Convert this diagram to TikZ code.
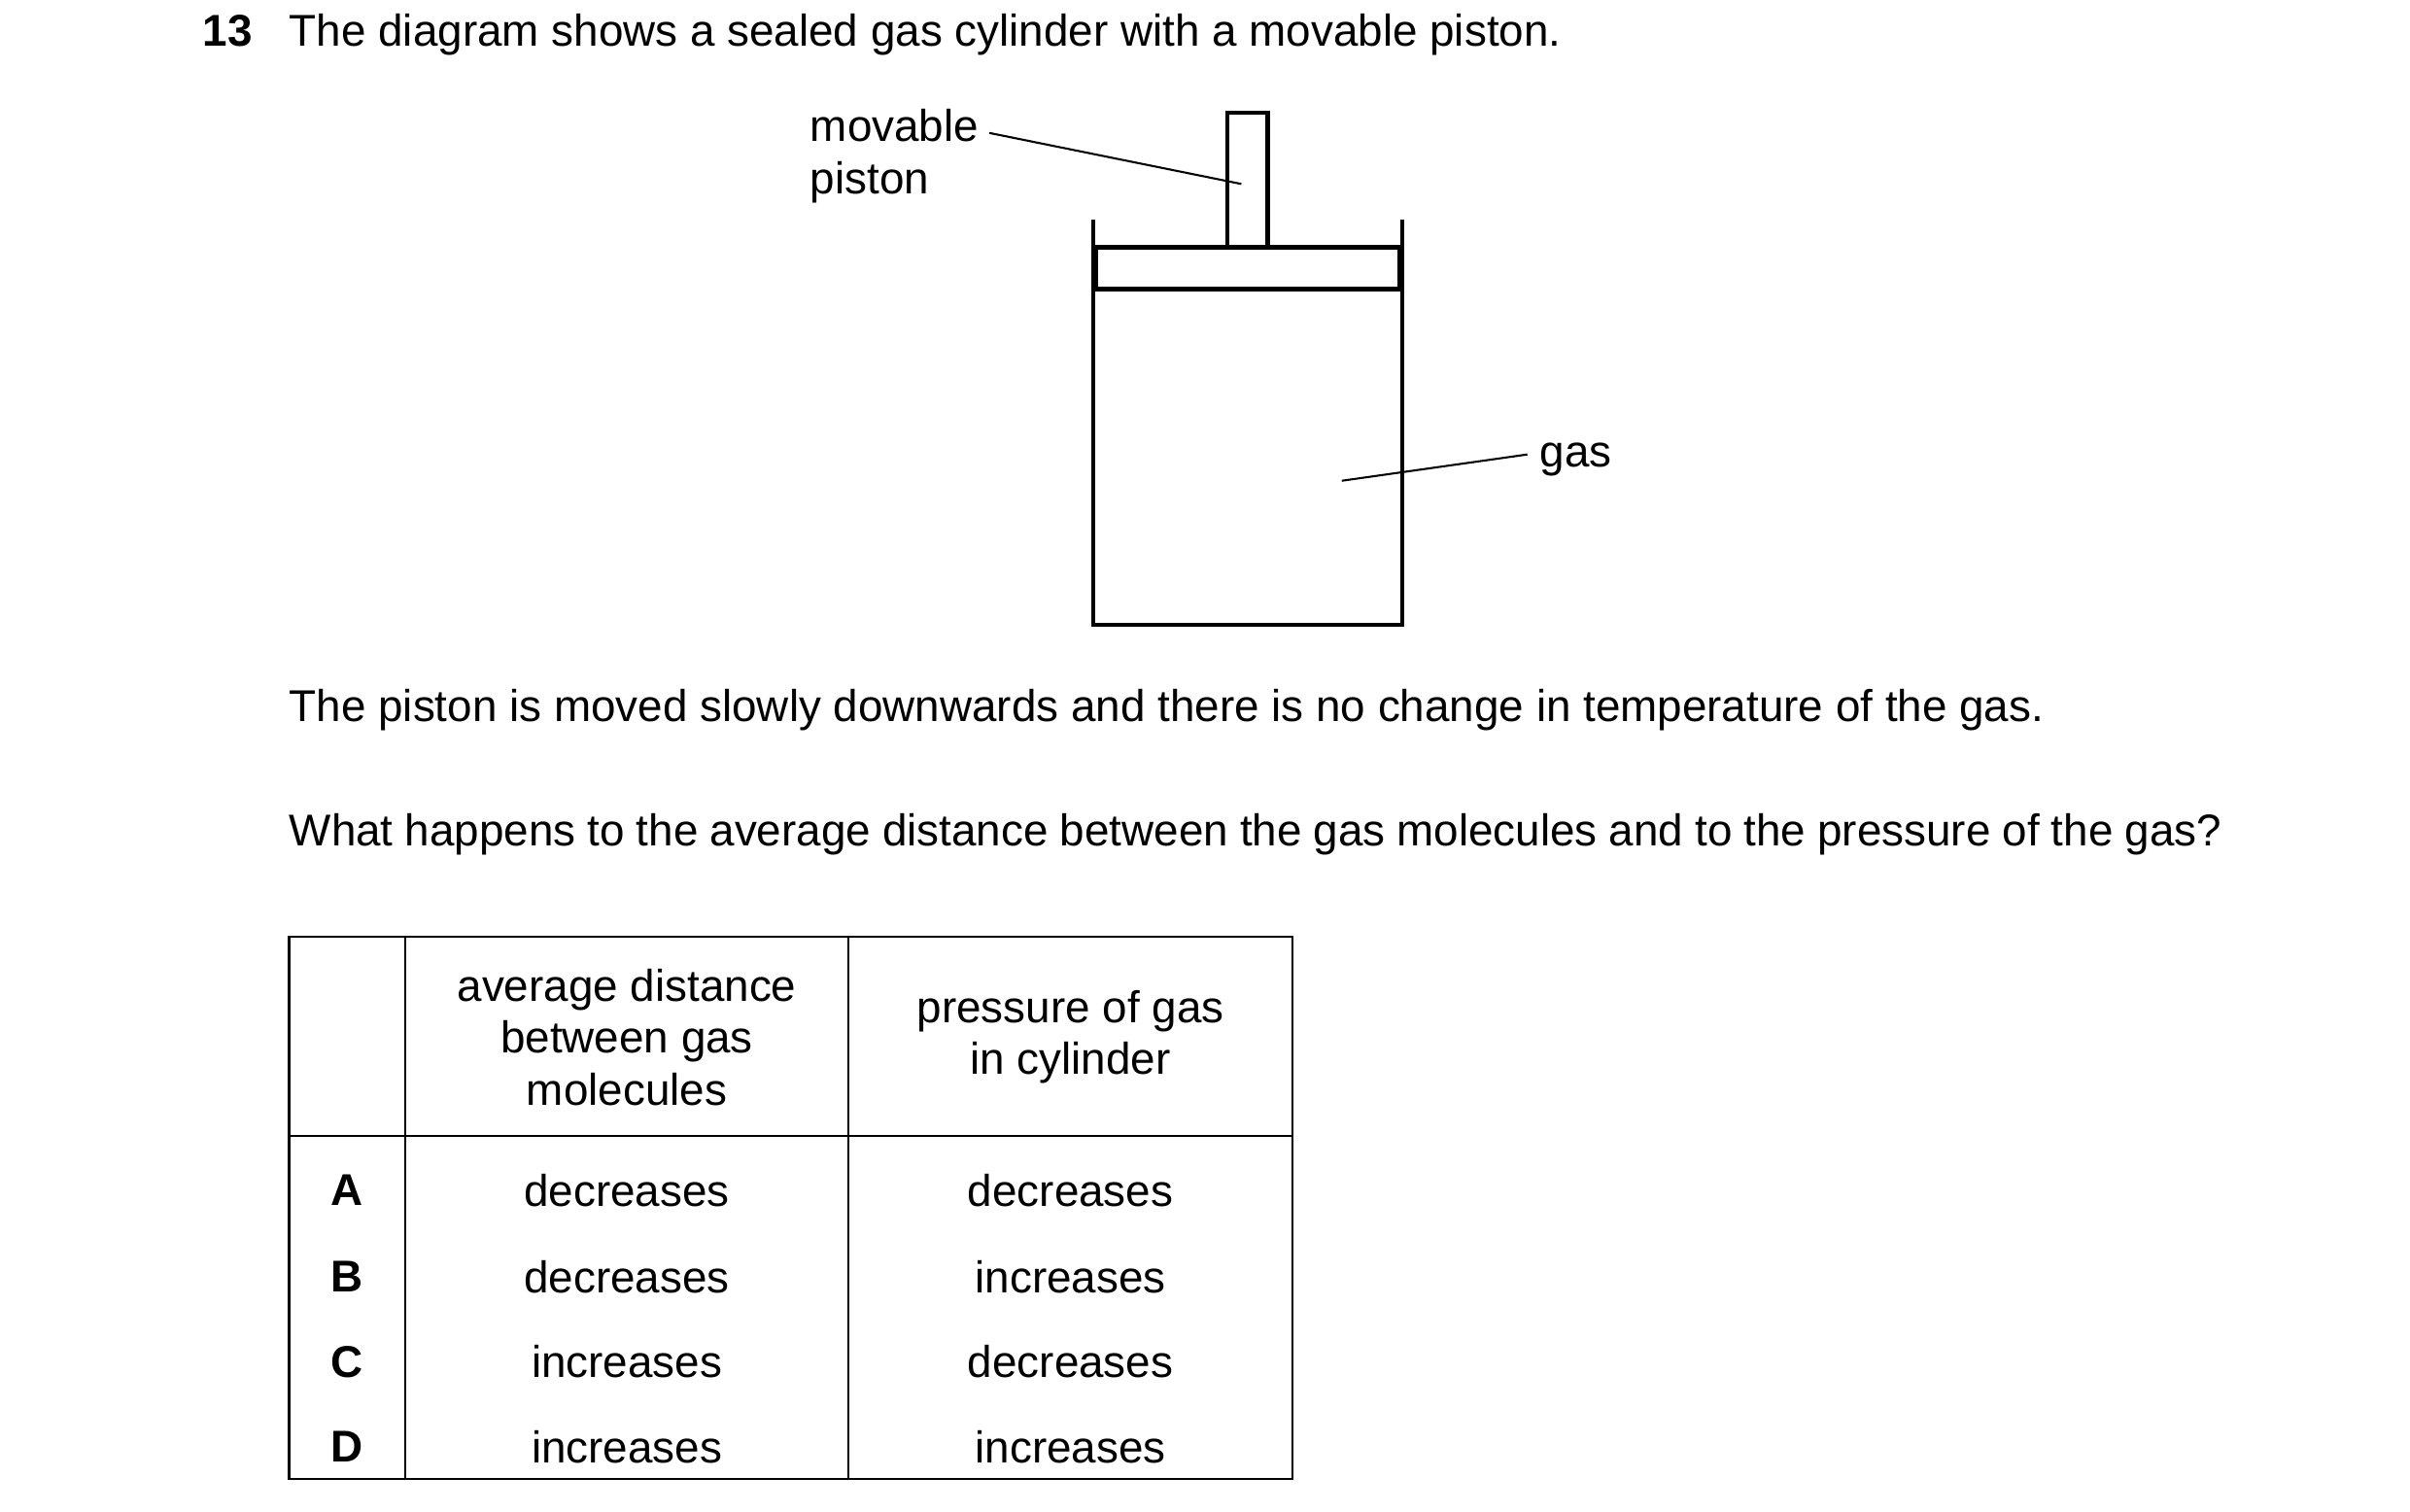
\documentclass[tikz,border=0pt]{standalone}
\usepackage{fontspec}
\setmainfont{Liberation Sans}
\begin{document}
\begin{tikzpicture}[x=1pt,y=-1pt,
  txt/.style={inner sep=0pt,font=\fontsize{28.8}{33.5}\selectfont},
  wall/.style={line width=2.6pt},
  lead/.style={line width=1.3pt},
  grid/.style={line width=1.4pt}]
\useasboundingbox (0,0) rectangle (1559,978);
\fill[white] (0,0) rectangle (1559,978);
\node[txt,anchor=base west,font=\fontsize{28.8}{33.5}\selectfont\bfseries] (num) at (131,30) {13};
\node[txt,anchor=base west] (t1) at (187,30) {The diagram shows a sealed gas cylinder with a movable piston.};
\node[txt,anchor=west,align=left] (mp) at (524,101) {movable\\piston};
\coordinate (mpe) at (640,86);
\coordinate (mpr) at (803,119);
\draw[lead] (mpe) -- (mpr);
% rod and piston
\draw[wall] (794,160) -- (794,73) -- (820,73) -- (820,160);
\draw[wall] (709,160) rectangle (905,187);
\draw[wall] (707,142) -- (707,404) -- (907,404) -- (907,142);
\node[txt,anchor=base west] (gas) at (996,302) {gas};
\coordinate (ge) at (988,294);
\coordinate (gi) at (868,311);
\draw[lead] (ge) -- (gi);
\node[txt,anchor=base west] (t2) at (187,467) {The piston is moved slowly downwards and there is no change in temperature of the gas.};
\node[txt,anchor=west,text width=1250pt,align=justify] (t3) at (187,540) {What happens to the average distance between the gas molecules and to the pressure of the gas?};
% table
\draw[grid] (187,606) rectangle (836,957);
\draw[grid] (262,606) -- (262,957);
\draw[grid] (549,606) -- (549,957);
\draw[grid] (187,735) -- (836,735);
\node[txt,align=center] (h1) at (405.5,671) {average distance\\between gas\\molecules};
\node[txt,align=center] (h2) at (692.5,671) {pressure of gas\\in cylinder};
\foreach \l/\a/\b/\y in {A/decreases/decreases/770,B/decreases/increases/826,C/increases/decreases/881,D/increases/increases/936}{
  \node[txt,font=\fontsize{28.8}{33.5}\selectfont\bfseries] at (224.5,\y) {\l};
  \node[txt] at (405.5,\y) {\a};
  \node[txt] at (692.5,\y) {\b};
}
\end{tikzpicture}
\end{document}
